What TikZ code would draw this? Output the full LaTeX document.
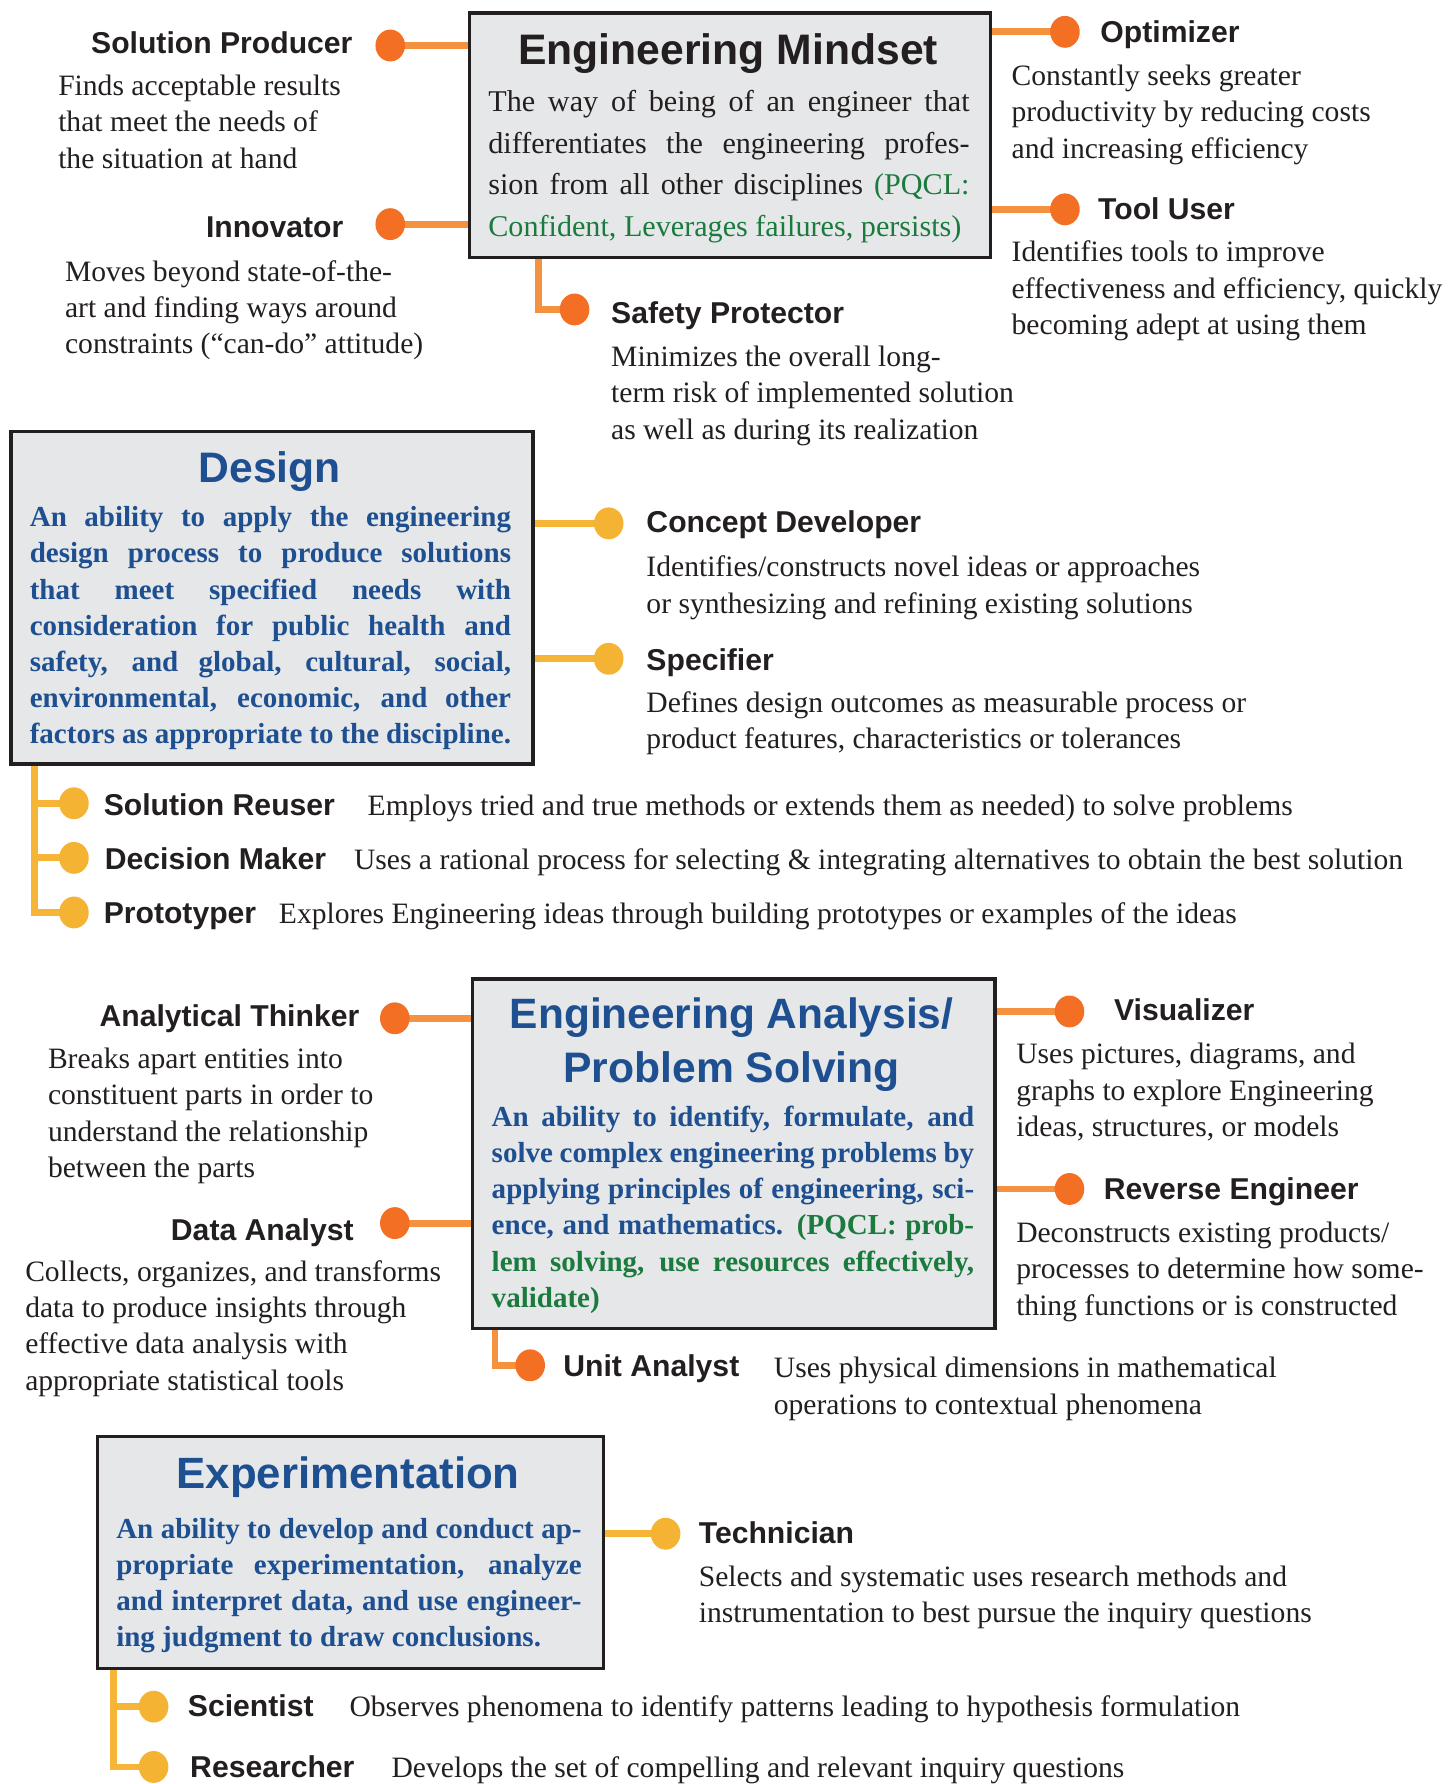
\documentclass[tikz,border=0pt]{standalone}
\usepackage{fontspec}
\setmainfont{Liberation Serif}
\newfontfamily\headfont{Liberation Sans}
\usetikzlibrary{shapes.geometric,backgrounds}

\definecolor{ink}{HTML}{231F20}
\definecolor{panel}{HTML}{E6E7E8}
\definecolor{deepblue}{HTML}{1D4F91}
\definecolor{pqgreen}{HTML}{1B7A3E}
\definecolor{orgdot}{HTML}{F26F23}
\definecolor{orgline}{HTML}{F4923F}
\definecolor{ambdot}{HTML}{F5B333}
\definecolor{ambline}{HTML}{F6B536}

% one line of a stacked text block, natural or justified to a width
\newcommand\rowtext[1]{\hbox{#1}}
\newcommand\jrow[2]{\hbox to #1{#2}}

\tikzset{
  panelbox/.style={draw=ink, line width=3pt, fill=panel, inner sep=0, anchor=north west},
  heading/.style={font=\headfont\bfseries\fontsize{37}{40}\selectfont, text=deepblue, inner sep=0, anchor=base},
  role/.style={font=\headfont\bfseries\fontsize{26.5}{30}\selectfont, text=ink, inner sep=0},
  roleL/.style={role, anchor=base east},
  roleR/.style={role, anchor=base west},
  note/.style={font=\fontsize{26}{32}\selectfont, text=ink, inner sep=0, anchor=base west},
  bodybold/.style={font=\bfseries\fontsize{25.5}{31.8}\selectfont, text=deepblue, inner sep=0, anchor=base west},
  odot/.style={ellipse, fill=orgdot, minimum width=26pt, minimum height=28pt, inner sep=0},
  ydot/.style={ellipse, fill=ambdot, minimum width=26pt, minimum height=28pt, inner sep=0},
  oline/.style={draw=orgline, line width=6pt},
  yline/.style={draw=ambline, line width=6pt},
}

\begin{document}
\begin{tikzpicture}[x=1pt, y=-1pt]
\useasboundingbox (0,0) rectangle (1278,1568);

%% ---------------- Engineering Mindset ----------------
\node[panelbox, minimum width=458pt, minimum height=215pt] (mind) at (411,10) {};
\node[heading, text=ink, font=\headfont\bfseries\fontsize{37.5}{40}\selectfont] (mindT) at (640,57) {Engineering Mindset};
\node[note, font=\fontsize{26.5}{36.5}\selectfont] (mindB) at (429,98) {\vtop{%
  \jrow{423pt}{The way of being of an engineer that}%
  \jrow{423pt}{differentiates the engineering profes-}%
  \jrow{423pt}{sion from all other disciplines {\color{pqgreen}(PQCL:}}%
  \rowtext{\color{pqgreen}Confident, Leverages failures, persists)}}};

\node[odot] (spd) at (343,40) {};
\node[odot] (inn) at (343,197) {};
\node[odot] (opt) at (936,28) {};
\node[odot] (tool) at (936,184) {};
\node[odot] (saf) at (505,272) {};

\node[roleL] (spdL) at (310,47) {Solution Producer};
\node[note] (spdN) at (51,84) {\vtop{\rowtext{Finds acceptable results}\rowtext{that meet the needs of}\rowtext{the situation at hand}}};
\node[roleL] (innL) at (302,209) {Innovator};
\node[note] (innN) at (57,247) {\vtop{\rowtext{Moves beyond state-of-the-}\rowtext{art and finding ways around}\rowtext{constraints (“can-do” attitude)}}};
\node[roleR] (optL) at (967,37) {Optimizer};
\node[note] (optN) at (889,75) {\vtop{\rowtext{Constantly seeks greater}\rowtext{productivity by reducing costs}\rowtext{and increasing efficiency}}};
\node[roleR] (toolL) at (965,193) {Tool User};
\node[note] (toolN) at (889,230) {\vtop{\rowtext{Identifies tools to improve}\rowtext{effectiveness and efficiency, quickly}\rowtext{becoming adept at using them}}};
\node[roleR] (safL) at (537,284) {Safety Protector};
\node[note] (safN) at (537,322) {\vtop{\rowtext{Minimizes the overall long-}\rowtext{term risk of implemented solution}\rowtext{as well as during its realization}}};

%% ---------------- Design ----------------
\node[panelbox, minimum width=459pt, minimum height=292pt] (design) at (8,378) {};
\node[heading, font=\headfont\bfseries\fontsize{37.5}{40}\selectfont] (desT) at (237,424) {Design};
\node[bodybold] (desB) at (26,463) {\vtop{%
  \jrow{423pt}{An ability to apply the engineering}%
  \jrow{423pt}{design process to produce solutions}%
  \jrow{423pt}{that meet specified needs with}%
  \jrow{423pt}{consideration for public health and}%
  \jrow{423pt}{safety, and global, cultural, social,}%
  \jrow{423pt}{environmental, economic, and other}%
  \jrow{423pt}{factors as appropriate to the discipline.}}};

\node[ydot] (con) at (535,460) {};
\node[ydot] (spec) at (535,579) {};
\node[ydot] (reu) at (65,706) {};
\node[ydot] (dec) at (65,754) {};
\node[ydot] (pro) at (65,802) {};

\node[roleR] (conL) at (568,468) {Concept Developer};
\node[note] (conN) at (568,507) {\vtop{\rowtext{Identifies/constructs novel ideas or approaches}\rowtext{or synthesizing and refining existing solutions}}};
\node[roleR] (specL) at (568,589) {Specifier};
\node[note] (specN) at (568,626) {\vtop{\rowtext{Defines design outcomes as measurable process or}\rowtext{product features, characteristics or tolerances}}};
\node[roleR] (reuL) at (91,717) {Solution Reuser};
\node[note] (reuN) at (323,717) {Employs tried and true methods or extends them as needed) to solve problems};
\node[roleR] (decL) at (92,764) {Decision Maker};
\node[note] (decN) at (311,764) {Uses a rational process for selecting \& integrating alternatives to obtain the best solution};
\node[roleR] (proL) at (91,812) {Prototyper};
\node[note] (proN) at (245,812) {Explores Engineering ideas through building prototypes or examples of the ideas};

%% ---------------- Engineering Analysis ----------------
\node[panelbox, minimum width=459pt, minimum height=307pt] (anal) at (414,859) {};
\node[heading, font=\headfont\bfseries\fontsize{37.3}{40}\selectfont] (anaT1) at (643,904) {Engineering Analysis/};
\node[heading, font=\headfont\bfseries\fontsize{37.5}{40}\selectfont] (anaT2) at (643,951) {Problem Solving};
\node[bodybold] (anaB) at (432,990) {\vtop{%
  \jrow{424pt}{An ability to identify, formulate, and}%
  \jrow{424pt}{solve complex engineering problems by}%
  \jrow{424pt}{applying principles of engineering, sci-}%
  \jrow{424pt}{ence, and mathematics. {\color{pqgreen}(PQCL: prob-}}%
  \jrow{424pt}{\color{pqgreen}lem solving, use resources effectively,}%
  \rowtext{\color{pqgreen}validate)}}};

\node[odot] (ana) at (347,895) {};
\node[odot] (dat) at (347,1075) {};
\node[odot] (vis) at (940,889) {};
\node[odot] (rev) at (940,1045) {};
\node[odot] (uni) at (466,1200) {};

\node[roleL] (anaL) at (316,902) {Analytical Thinker};
\node[note] (anaN) at (42,939) {\vtop{\rowtext{Breaks apart entities into}\rowtext{constituent parts in order to}\rowtext{understand the relationship}\rowtext{between the parts}}};
\node[roleL] (datL) at (311,1090) {Data Analyst};
\node[note] (datN) at (22,1126) {\vtop{\rowtext{Collects, organizes, and transforms}\rowtext{data to produce insights through}\rowtext{effective data analysis with}\rowtext{appropriate statistical tools}}};
\node[roleR] (visL) at (979,897) {Visualizer};
\node[note] (visN) at (893,935) {\vtop{\rowtext{Uses pictures, diagrams, and}\rowtext{graphs to explore Engineering}\rowtext{ideas, structures, or models}}};
\node[roleR] (revL) at (970,1054) {Reverse Engineer};
\node[note] (revN) at (893,1092) {\vtop{\rowtext{Deconstructs existing products/}\rowtext{processes to determine how some-}\rowtext{thing functions or is constructed}}};
\node[roleR] (uniL) at (495,1210) {Unit Analyst};
\node[note] (uniN) at (680,1211) {\vtop{\rowtext{Uses physical dimensions in mathematical}\rowtext{operations to contextual phenomena}}};

%% ---------------- Experimentation ----------------
\node[panelbox, minimum width=445pt, minimum height=204pt] (expt) at (84,1261) {};
\node[heading, font=\headfont\bfseries\fontsize{38.5}{40}\selectfont] (expT) at (306,1308) {Experimentation};
\node[bodybold] (expB) at (102,1352) {\vtop{%
  \jrow{409pt}{An ability to develop and conduct ap-}%
  \jrow{409pt}{propriate experimentation, analyze}%
  \jrow{409pt}{and interpret data, and use engineer-}%
  \rowtext{ing judgment to draw conclusions.}}};

\node[ydot] (tec) at (585,1348) {};
\node[ydot] (sci) at (135,1500) {};
\node[ydot] (res) at (135,1553) {};

\node[roleR] (tecL) at (614,1357) {Technician};
\node[note] (tecN) at (614,1394) {\vtop{\rowtext{Selects and systematic uses research methods and}\rowtext{instrumentation to best pursue the inquiry questions}}};
\node[roleR] (sciL) at (165,1509) {Scientist};
\node[note] (sciN) at (307,1509) {Observes phenomena to identify patterns leading to hypothesis formulation};
\node[roleR] (resL) at (167,1562) {Researcher};
\node[note] (resN) at (344,1562) {Develops the set of compelling and relevant inquiry questions};

%% ---------------- connectors ----------------
\begin{pgfonlayer}{background}
  \draw[oline] (spd.center) -- (spd.center -| mind.west);
  \draw[oline] (inn.center) -- (inn.center -| mind.west);
  \draw[oline] (opt.center) -- (opt.center -| mind.east);
  \draw[oline] (tool.center) -- (tool.center -| mind.east);
  \draw[oline] ([xshift=62pt]mind.south west) |- (saf.center);

  \draw[yline] (con.center) -- (con.center -| design.east);
  \draw[yline] (spec.center) -- (spec.center -| design.east);
  \draw[yline] ([xshift=22pt]design.south west) |- (pro.center);
  \draw[yline] ([xshift=22pt]design.south west) |- (dec.center);
  \draw[yline] ([xshift=22pt]design.south west) |- (reu.center);

  \draw[oline] (ana.center) -- (ana.center -| anal.west);
  \draw[oline] (dat.center) -- (dat.center -| anal.west);
  \draw[oline] (vis.center) -- (vis.center -| anal.east);
  \draw[oline] (rev.center) -- (rev.center -| anal.east);
  \draw[oline] ([xshift=21pt]anal.south west) |- (uni.center);

  \draw[yline] (tec.center) -- (tec.center -| expt.east);
  \draw[yline] ([xshift=16pt]expt.south west) |- (res.center);
  \draw[yline] ([xshift=16pt]expt.south west) |- (sci.center);
\end{pgfonlayer}
\end{tikzpicture}
\end{document}
